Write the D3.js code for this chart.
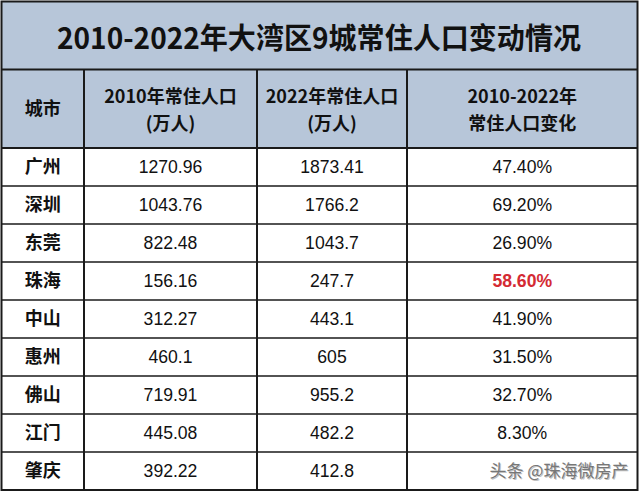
<!DOCTYPE html>
<html><head><meta charset="utf-8">
<script src="https://cdn.jsdelivr.net/npm/d3@7"></script>
<style>html,body{margin:0;padding:0;background:#fff;}</style>
</head><body>
<svg id="c" width="640" height="492"></svg>
<script>
const title = "2010-2022年大湾区9城常住人口变动情况";
const headers = [["城市"], ["2010年常住人口", "(万人)"], ["2022年常住人口", "(万人)"], ["2010-2022年", "常住人口变化"]];
const cities = ["广州", "深圳", "东莞", "珠海", "中山", "惠州", "佛山", "江门", "肇庆"];
const pop2010 = ["1270.96", "1043.76", "822.48", "156.16", "312.27", "460.1", "719.91", "445.08", "392.22"];
const pop2022 = ["1873.41", "1766.2", "1043.7", "247.7", "443.1", "605", "955.2", "482.2", "412.8"];
const change = ["47.40%", "69.20%", "26.90%", "58.60%", "41.90%", "31.50%", "32.70%", "8.30%", null];
const highlight = "珠海";
const watermark = "头条 @珠海微房产";

const svg = d3.select("#c");
const cjk = "'Noto Sans CJK SC','Noto Sans',sans-serif";
const latin = "'Liberation Sans',Arial,sans-serif";
const bg = "#b7c6d9", line = "#1a1a1a";
const L = 1.5, R = 637.5, T = 1.5, titleB = 69.5, headB = 148, B = 490;
const colEdges = [L, 84, 257, 407, R];

const y = d3.scaleBand().domain(cities).range([headB, B]);

// backgrounds
svg.append("rect").attr("x", L).attr("y", T).attr("width", R - L).attr("height", headB - T).attr("fill", bg);
svg.append("rect").attr("x", L).attr("y", headB).attr("width", R - L).attr("height", B - headB).attr("fill", "#fff");

// title
svg.append("text").attr("x", 57).attr("y", 49)
  .attr("textLength", 524).attr("lengthAdjust", "spacingAndGlyphs")
  .attr("font-family", cjk).attr("font-weight", 700).attr("font-size", 29).attr("fill", "#111").text(title);

// headers
headers.forEach((h, i) => {
  const cx = (colEdges[i] + colEdges[i + 1]) / 2;
  const t = svg.append("text").attr("text-anchor", "middle").attr("font-family", cjk)
    .attr("font-weight", 700).attr("font-size", 18).attr("fill", "#111");
  if (h.length === 1) {
    t.append("tspan").attr("x", cx).attr("y", 115).text(h[0]);
  } else {
    t.append("tspan").attr("x", cx).attr("y", 103).text(h[0]);
    t.append("tspan").attr("x", cx).attr("y", 130).text(h[1]);
  }
});

// rows
const rows = svg.append("g").selectAll("g").data(cities).join("g")
  .attr("transform", d => `translate(0,${y(d) + y.bandwidth() / 2 + 6})`);
rows.append("text").attr("x", (colEdges[0] + colEdges[1]) / 2).attr("text-anchor", "middle")
  .attr("font-family", cjk).attr("font-weight", 700).attr("font-size", 18).attr("fill", "#111").text(d => d);
rows.append("text").attr("x", (colEdges[1] + colEdges[2]) / 2).attr("text-anchor", "middle")
  .attr("font-family", latin).attr("font-size", 17.6).attr("fill", "#111").text((d, i) => pop2010[i]);
rows.append("text").attr("x", (colEdges[2] + colEdges[3]) / 2).attr("text-anchor", "middle")
  .attr("font-family", latin).attr("font-size", 17.6).attr("fill", "#111").text((d, i) => pop2022[i]);
rows.append("text").attr("x", (colEdges[3] + colEdges[4]) / 2).attr("text-anchor", "middle")
  .attr("font-family", latin).attr("font-size", 17.6)
  .attr("font-weight", d => d === highlight ? 700 : 400)
  .attr("fill", d => d === highlight ? "#d42a33" : "#111")
  .text((d, i) => change[i] || "");

// grid lines
const g = svg.append("g").attr("stroke", line).attr("stroke-width", 2).attr("fill", "none");
g.append("rect").attr("x", L).attr("y", T).attr("width", R - L).attr("height", B - T);
g.append("line").attr("x1", L).attr("x2", R).attr("y1", titleB).attr("y2", titleB);
g.append("line").attr("x1", L).attr("x2", R).attr("y1", headB).attr("y2", headB);
cities.slice(1).forEach(c => g.append("line").attr("x1", L).attr("x2", R).attr("y1", y(c)).attr("y2", y(c)).attr("stroke-width", 1.5));
colEdges.slice(1, -1).forEach(x => g.append("line").attr("x1", x).attr("x2", x).attr("y1", titleB).attr("y2", B));

// watermark
const wy = y(cities[cities.length - 1]) + y.bandwidth() / 2 + 6;
svg.append("text").attr("x", 560).attr("y", wy + 1).attr("text-anchor", "middle")
  .attr("font-family", cjk).attr("font-size", 17).attr("fill", "#999").attr("opacity", 0.6).text(watermark);
svg.append("text").attr("x", 559).attr("y", wy).attr("text-anchor", "middle")
  .attr("font-family", cjk).attr("font-size", 17).attr("fill", "#777").text(watermark);
</script>
</body></html>
